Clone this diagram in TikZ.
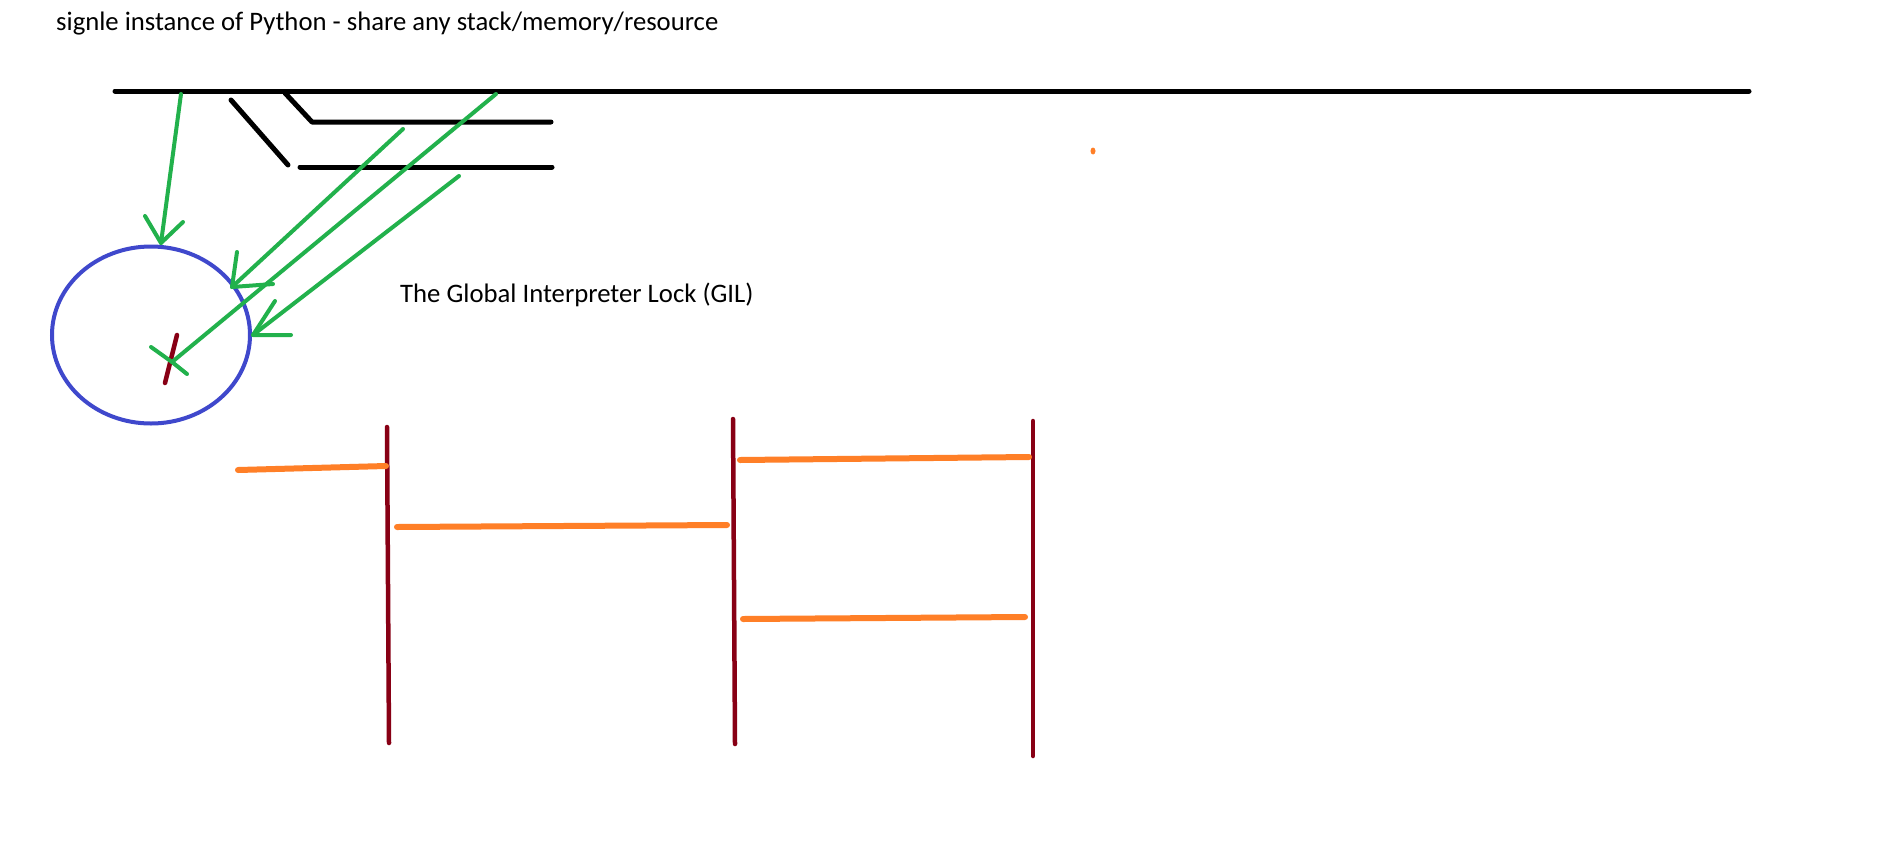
\documentclass[tikz,border=0pt]{standalone}
\usepackage{fontspec}
\setmainfont{Carlito}
\usetikzlibrary{shapes.geometric}
\tikzset{
  blk/.style={line width=5pt, black, line cap=round},
  grn/.style={line width=4pt, paintgreen, line cap=round, line join=round},
  rd/.style={line width=4.5pt, paintred, line cap=round},
  org/.style={line width=6pt, paintorange, line cap=round},
  lbl/.style={inner sep=0pt, anchor=base west, font=\fontsize{26.7}{32}\selectfont}
}
\definecolor{paintgreen}{RGB}{34,177,76}
\definecolor{paintblue}{RGB}{63,72,204}
\definecolor{paintred}{RGB}{136,0,21}
\definecolor{paintorange}{RGB}{255,127,39}
\begin{document}
\begin{tikzpicture}[x=1pt,y=-1pt]
\useasboundingbox[fill=white] (0,0) rectangle (1903,860);
% texts
\node[lbl] (title) at (56,30) {signle instance of Python - share any stack/memory/resource};
\node[lbl] (gil) at (400,302) {The Global Interpreter Lock (GIL)};
% black lines
\coordinate (t1) at (115,91);
\coordinate (t2) at (1749,91);
\draw[blk] (t1) -- (t2);
\coordinate (a1) at (285,93);
\coordinate (a2) at (312,122);
\coordinate (a3) at (551,122);
\draw[blk, line join=round] (a1) -- (a2) -- (a3);
\coordinate (b1) at (231,100);
\coordinate (b2) at (288,165);
\draw[blk] (b1) -- (b2);
\coordinate (c1) at (300,167);
\coordinate (c2) at (552,167);
\draw[blk] (c1) -- (c2);
% circle
\node[draw=paintblue, line width=4pt, ellipse, minimum width=198pt, minimum height=177pt, inner sep=0pt] (circ) at (151,335) {};
% red mark
\coordinate (m1) at (177,335);
\coordinate (m2) at (165,383);
\draw[rd] (m1) -- (m2);
% green arrows
\coordinate (g1s) at (181,94);
\coordinate (g1t) at (161,243);
\coordinate (g1l) at (145,216);
\coordinate (g1r) at (183,222);
\draw[grn] (g1s) -- (g1t);
\draw[grn] (g1l) -- (g1t) -- (g1r);
\coordinate (g2s) at (403,129);
\coordinate (g2t) at (232,287);
\coordinate (g2l) at (237,252);
\coordinate (g2r) at (273,284);
\draw[grn] (g2s) -- (g2t);
\draw[grn] (g2l) -- (g2t) -- (g2r);
\coordinate (g3s) at (496,94);
\coordinate (g3t) at (172,362);
\coordinate (g3l) at (151,347);
\coordinate (g3r) at (187,374);
\draw[grn] (g3s) -- (g3t);
\draw[grn] (g3l) -- (g3t) -- (g3r);
\coordinate (g4s) at (459,176);
\coordinate (g4t) at (253,335);
\coordinate (g4l) at (275,301);
\coordinate (g4r) at (291,335);
\draw[grn] (g4s) -- (g4t);
\draw[grn] (g4l) -- (g4t) -- (g4r);
% orange dot
\node[fill=paintorange, ellipse, minimum width=5pt, minimum height=7pt, inner sep=0pt] (dot) at (1093,151) {};
% red vertical lines
\coordinate (v1t) at (387,427);
\coordinate (v1b) at (389,743);
\draw[rd] (v1t) -- (v1b);
\coordinate (v2t) at (733,419);
\coordinate (v2b) at (735,744);
\draw[rd] (v2t) -- (v2b);
\coordinate (v3t) at (1033,421);
\coordinate (v3b) at (1033,756);
\draw[rd] (v3t) -- (v3b);
% orange lines
\coordinate (o1a) at (238,470);
\coordinate (o1b) at (386,466);
\draw[org] (o1a) -- (o1b);
\coordinate (o2a) at (397,527);
\coordinate (o2b) at (727,525);
\draw[org] (o2a) -- (o2b);
\coordinate (o3a) at (740,460);
\coordinate (o3b) at (1029,457);
\draw[org] (o3a) -- (o3b);
\coordinate (o4a) at (743,619);
\coordinate (o4b) at (1025,617);
\draw[org] (o4a) -- (o4b);
\end{tikzpicture}
\end{document}
